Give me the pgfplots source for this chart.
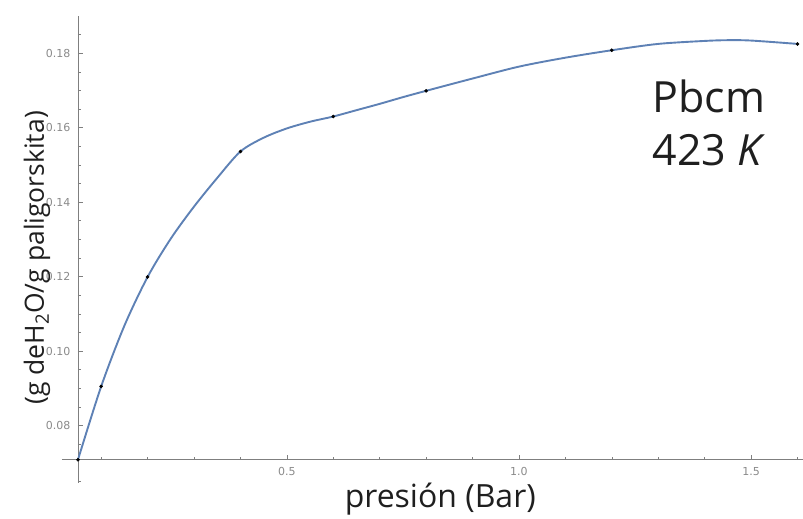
\documentclass[border=0pt]{standalone}
\usepackage{pgfplots}
\pgfplotsset{compat=1.18}
\usepackage{fontspec}
\setmainfont{Open Sans}
\newfontfamily\tickfont{DejaVu Sans}
\definecolor{mblue}{HTML}{5E81B5}
\definecolor{axgray}{HTML}{7F7F7F}
\definecolor{lblgray}{HTML}{8A8A8A}
\begin{document}
\begin{tikzpicture}
\begin{axis}[
  scale only axis, width=725pt, height=444pt,
  xmin=0.05, xmax=1.611, ymin=0.0708, ymax=0.1900,
  axis lines=left,
  axis line style={-, draw=axgray, line width=0.8pt},
  x axis line style={shorten <=-16pt},
  y axis line style={shorten <=-23pt},
  xtick={0.5,1.0,1.5}, xticklabels={0.5,1.0,1.5},
  minor xtick={0.1,0.2,0.3,0.4,0.6,0.7,0.8,0.9,1.1,1.2,1.3,1.4,1.6},
  ytick={0.08,0.10,0.12,0.14,0.16,0.18},
  yticklabels={0.08,0.10,0.12,0.14,0.16,0.18},
  minor ytick={0.075,0.085,0.09,0.095,0.105,0.11,0.115,0.125,0.13,0.135,0.145,0.15,0.155,0.165,0.17,0.175,0.185},
  tick align=inside, major tick length=5pt, minor tick length=3pt,
  tick style={axgray, line width=0.6pt},
  ticklabel style={font=\tickfont\fontsize{11}{13}\selectfont, text=lblgray},
  yticklabel style={xshift=-4pt},
  xticklabel style={yshift=-4pt},
  clip=false,
]
% fitted curve
\addplot[mblue, line width=1.9pt, smooth, tension=0.5] coordinates {
  (0.05,0.0708) (0.10,0.0905) (0.15,0.1068) (0.20,0.1199) (0.25,0.1302)
  (0.30,0.1388) (0.35,0.1465) (0.40,0.1536) (0.45,0.1573) (0.50,0.1598)
  (0.55,0.1616) (0.60,0.1630) (0.65,0.1647) (0.70,0.1664) (0.75,0.1682)
  (0.80,0.1699) (0.90,0.1732) (1.00,0.1764) (1.10,0.1788) (1.20,0.1808)
  (1.30,0.1825) (1.40,0.1833) (1.45,0.1835) (1.50,0.1834) (1.60,0.1825)
};
% data points
\addplot[only marks, mark=*, mark size=1.6pt, black] coordinates {
  (0.05,0.0708) (0.1,0.0905) (0.2,0.1199) (0.4,0.1536) (0.6,0.1630) (0.8,0.1699) (1.2,0.1808) (1.6,0.1825)
};
\coordinate (t65) at (axis cs:0.05,0.065);
\node[anchor=base west, font=\fontsize{43}{43}\selectfont, text=black!88] at (axis cs:1.280,0.16397) {Pbcm};
\node[anchor=base west, font=\fontsize{43}{43}\selectfont, text=black!88] at (axis cs:1.280,0.14974) {423 \textit{K}};
\node[anchor=base, font=\fontsize{32}{32}\selectfont, text=black!88] at ([yshift=-48pt]rel axis cs:0.5,0) {presión (Bar)};
\node[anchor=base, rotate=90, font=\fontsize{26.5}{26.5}\selectfont, text=black!88] at ([xshift=-34pt]rel axis cs:0,0.455) {(g deH\textsubscript{2}O/g paligorskita)};
\end{axis}
\draw[axgray, line width=0.6pt] (t65) -- ++(3pt,0);
\path ([xshift=-78pt,yshift=-55pt]current axis.south west) rectangle ([yshift=16pt]current axis.north east);
\end{tikzpicture}
\end{document}
